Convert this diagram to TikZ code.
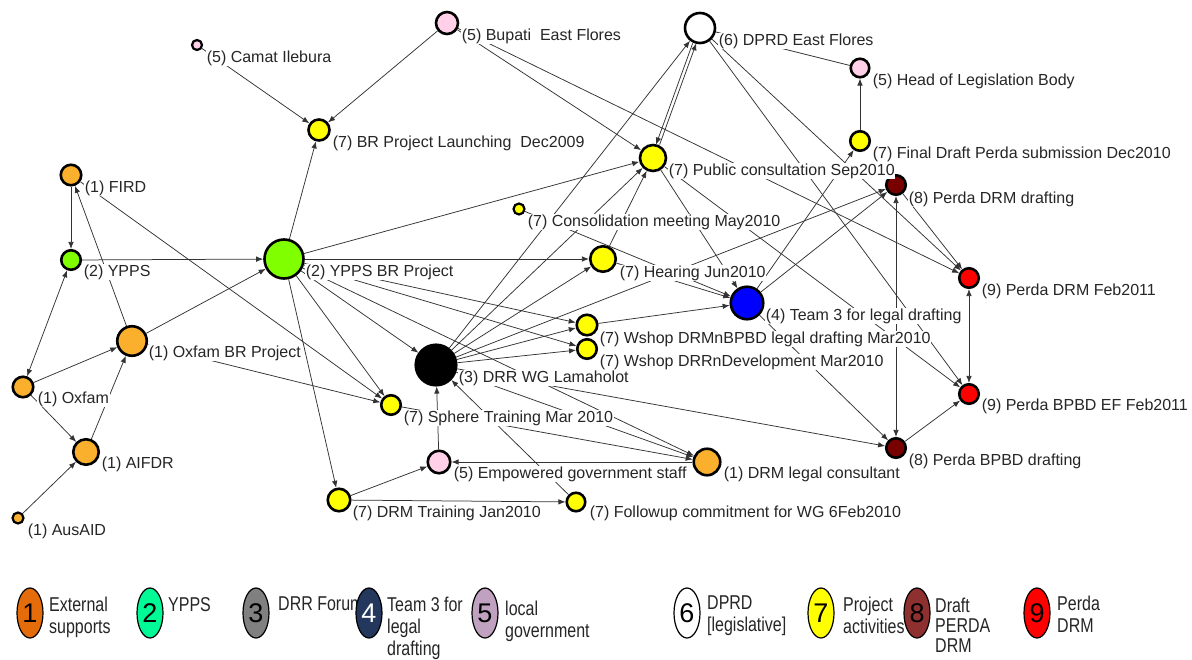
\documentclass[tikz,border=0pt]{standalone}
\usepackage{fontspec}
\setmainfont{Liberation Sans}
\newfontfamily\legfont[FakeStretch=0.8]{Liberation Sans}
\usetikzlibrary{arrows.meta,shapes.geometric}
\definecolor{cOrange}{RGB}{250,176,45}
\definecolor{cGreen}{RGB}{128,255,0}
\definecolor{cYellow}{RGB}{255,255,0}
\definecolor{cPink}{RGB}{255,208,232}
\definecolor{cBlue}{RGB}{0,0,255}
\definecolor{cDark}{RGB}{120,0,0}
\definecolor{cRed}{RGB}{255,0,0}
\definecolor{kOne}{RGB}{228,108,10}
\definecolor{kTwo}{RGB}{0,250,150}
\definecolor{kThree}{RGB}{128,128,128}
\definecolor{kFour}{RGB}{35,56,92}
\definecolor{kFive}{RGB}{192,162,192}
\definecolor{kEight}{RGB}{142,48,48}
\begin{document}
\begin{tikzpicture}[x=1pt,y=-1pt,
  gn/.style={circle,draw=black,line width=2.6pt,inner sep=0pt},
  tiny/.style={circle,draw=black,line width=2.2pt,inner sep=0pt},
  lb/.style={anchor=base west,fill=white,inner sep=0.6pt,font=\fontsize{16}{18}\selectfont,text=black!85},
  ed/.style={draw=black!80,line width=0.75pt,-{Latex[length=7pt,width=5.5pt]}},
  edd/.style={draw=black!80,line width=0.75pt,{Latex[length=7pt,width=5.5pt]}-{Latex[length=7pt,width=5.5pt]}},
  ln/.style={draw=black!80,line width=0.75pt},
  keyell/.style={ellipse,draw=black,line width=1.2pt,minimum width=26pt,minimum height=50pt,inner sep=0pt,font=\fontsize{27}{27}\selectfont},
  keytxt/.style={anchor=north west,align=left,inner sep=0pt,font=\legfont\fontsize{20}{22}\selectfont,text=black!85}]
\useasboundingbox[fill=white] (0,0) rectangle (1192,659);

% ---------- graph nodes ----------
\node[tiny,fill=cPink,minimum size=10pt] (camat) at (197,45) {};
\node[gn,fill=cPink,minimum size=22pt] (bupati) at (447,23) {};
\node[gn,fill=white,minimum size=30pt] (dprd) at (700,28) {};
\node[gn,fill=cPink,minimum size=18.5pt] (head) at (860,68) {};
\node[gn,fill=cYellow,minimum size=21pt] (brlaunch) at (319,130) {};
\node[gn,fill=cOrange,minimum size=20.5pt] (fird) at (71,175) {};
\node[gn,fill=cYellow,minimum size=26pt] (public) at (653,158) {};
\node[gn,fill=cYellow,minimum size=19.5pt] (final) at (860,141) {};
\node[gn,fill=cDark,minimum size=19.5pt] (pdrmd) at (896,185) {};
\node[tiny,fill=cYellow,minimum size=11pt] (consol) at (519,209) {};
\node[gn,fill=cGreen,minimum size=19.5pt] (ypps) at (71,260) {};
\node[gn,fill=cGreen,minimum size=39pt] (yppsbr) at (284,259) {};
\node[gn,fill=cYellow,minimum size=25.5pt] (hearing) at (603,259) {};
\node[gn,fill=cRed,minimum size=19.5pt] (pdrmf) at (969,278) {};
\node[gn,fill=cBlue,minimum size=32.5pt] (team3) at (747,303) {};
\node[gn,fill=cYellow,minimum size=20.5pt] (wshopa) at (587,325) {};
\node[gn,fill=cYellow,minimum size=19.5pt] (wshopb) at (587,349) {};
\node[gn,fill=cOrange,minimum size=29.5pt] (oxfambr) at (132,341) {};
\node[gn,fill=black,minimum size=40.5pt] (drrwg) at (436,365) {};
\node[gn,fill=cOrange,minimum size=20.5pt] (oxfam) at (23,387) {};
\node[gn,fill=cRed,minimum size=19.5pt] (pbpbdf) at (969,394) {};
\node[gn,fill=cYellow,minimum size=19.5pt] (sphere) at (391,405) {};
\node[gn,fill=cOrange,minimum size=25.5pt] (aifdr) at (86,452) {};
\node[gn,fill=cPink,minimum size=22.5pt] (empowered) at (439,462) {};
\node[gn,fill=cOrange,minimum size=26.5pt] (drmlegal) at (707,462) {};
\node[gn,fill=cDark,minimum size=19.5pt] (pbpbdd) at (896,448) {};
\node[gn,fill=cYellow,minimum size=22.5pt] (drmtrain) at (339,500) {};
\node[gn,fill=cYellow,minimum size=18.5pt] (followup) at (576,502) {};
\node[tiny,fill=cOrange,minimum size=11pt] (ausaid) at (18,518) {};

% ---------- edges ----------
\draw[ed] (camat) -- (brlaunch);
\draw[ed] (bupati) -- (brlaunch);
\draw[ed] (yppsbr) -- (brlaunch);
\draw[ed] (fird) -- (ypps);
\draw[ed] (ypps) -- (yppsbr);
\draw[ed] (oxfambr) -- (fird);
\draw[ed] (fird) -- (sphere);
\draw[ed] (oxfambr) -- (sphere);
\draw[edd] (oxfam) -- (ypps);
\draw[ed] (oxfam) -- (oxfambr);
\draw[ed] (oxfam) -- (aifdr);
\draw[ed] (aifdr) -- (oxfambr);
\draw[ed] (ausaid) -- (aifdr);
\draw[ed] (oxfambr) -- (yppsbr);
\draw[ed] (yppsbr) -- (public);
\draw[ed] (yppsbr) -- (hearing);
\draw[ed] (yppsbr) -- (drrwg);
\draw[ed] (yppsbr) -- (sphere);
\draw[ed] (yppsbr) -- (drmtrain);
\draw[ed] (yppsbr) -- (wshopa);
\draw[ed] (yppsbr) -- (wshopb);
\draw[ed] (yppsbr) -- (drmlegal);
\draw[ed] (drrwg) -- (dprd);
\draw[ed] (drrwg) -- (public);
\draw[ed] (drrwg) -- (hearing);
\draw[ed] (drrwg) -- (wshopa);
\draw[ed] (drrwg) -- (wshopb);
\draw[ed] (drrwg) -- (pdrmd);
\draw[ed] (drrwg) -- (pbpbdd);
\draw[ed] (drrwg) -- (drmlegal);
\draw[ed, transform canvas={xshift=-1.8pt}] (dprd) -- (public);
\draw[ed, transform canvas={xshift=1.8pt}] (public) -- (dprd);
\draw[ed] (dprd) -- (pdrmf);
\draw[ed] (dprd) -- (pbpbdf);
\draw[ln] (dprd) -- (head);
\draw[ed] (bupati) -- (pdrmf);
\draw[ed] (bupati) -- (public);
\draw[ed] (final) -- (head);
\draw[ed] (team3) -- (final);
\draw[ed] (team3) -- (pdrmd);
\draw[ed] (team3) -- (pbpbdd);
\draw[ed] (wshopa) -- (team3);
\draw[ed] (hearing) -- (team3);
\draw[ed] (consol) -- (team3);
\draw[ed] (hearing) -- (public);
\draw[ed] (public) -- (team3);
\draw[ed] (public) -- (pbpbdf);
\draw[edd] (pdrmd) -- (pbpbdd);
\draw[ed] (pdrmd) -- (pdrmf);
\draw[edd] (pdrmf) -- (pbpbdf);
\draw[ed] (pbpbdd) -- (pbpbdf);
\draw[ed] (drmlegal) -- (empowered);
\draw[ed] (drmtrain) -- (empowered);
\draw[ed] (drmtrain) -- (followup);
\draw[ed] (empowered) -- (drrwg);
\draw[ed] (followup) -- (drrwg);
\draw[ed] (sphere) -- (drmlegal);

% ---------- labels ----------
\node[lb] (l-camat) at (206,62) {(5) Camat Ilebura};
\node[lb] (l-bupati) at (461,40) {(5) Bupati\ \ East Flores};
\node[lb] (l-dprd) at (718,45) {(6) DPRD East Flores};
\node[lb] (l-head) at (872,85) {(5) Head of Legislation Body};
\node[lb] (l-brlaunch) at (332,147) {(7) BR Project Launching\ \ Dec2009};
\node[lb] (l-fird) at (84,192) {(1) FIRD};
\node[lb] (l-public) at (668,175) {(7) Public consultation Sep2010};
\node[lb] (l-final) at (872,158) {(7) Final Draft Perda submission Dec2010};
\node[lb] (l-pdrmd) at (908,203) {(8) Perda DRM drafting};
\node[lb] (l-consol) at (527,226) {(7) Consolidation meeting May2010};
\node[lb] (l-ypps) at (83,276) {(2) YPPS};
\node[lb] (l-yppsbr) at (305,276) {(2) YPPS BR Project};
\node[lb] (l-hearing) at (619,277) {(7) Hearing Jun2010};
\node[lb] (l-pdrmf) at (981,295) {(9) Perda DRM Feb2011};
\node[lb] (l-team3) at (765,320) {(4) Team 3 for legal drafting};
\node[lb] (l-wshopa) at (599,343) {(7) Wshop DRMnBPBD legal drafting Mar2010};
\node[lb] (l-wshopb) at (599,366) {(7) Wshop DRRnDevelopment Mar2010};
\node[lb] (l-oxfambr) at (148,357) {(1) Oxfam BR Project};
\node[lb] (l-drrwg) at (458,382) {(3) DRR WG Lamaholot};
\node[lb] (l-oxfam) at (37,403) {(1) Oxfam};
\node[lb] (l-pbpbdf) at (981,410) {(9) Perda BPBD EF Feb2011};
\node[lb] (l-sphere) at (403,422) {(7) Sphere Training Mar 2010};
\node[lb] (l-aifdr) at (101,468) {(1) AIFDR};
\node[lb] (l-empowered) at (453,478) {(5) Empowered government staff};
\node[lb] (l-drmlegal) at (723,478) {(1) DRM legal consultant};
\node[lb] (l-pbpbdd) at (908,465) {(8) Perda BPBD drafting};
\node[lb] (l-drmtrain) at (352,517) {(7) DRM Training Jan2010};
\node[lb] (l-followup) at (589,517) {(7) Followup commitment for WG 6Feb2010};
\node[lb] (l-ausaid) at (27,535) {(1) AusAID};

% ---------- legend ----------
\node[keytxt] (t1) at (49,597) {External\\supports};
\node[keytxt] (t2) at (168,597) {YPPS};
\node[keytxt] (t3) at (278,597) {DRR Forum};
\node[keytxt] (t4) at (387,597) {Team 3 for\\legal\\drafting};
\node[keytxt] (t5) at (505,601) {local\\government};
\node[keytxt] (t6) at (707,596) {DPRD\\{}[legislative]};
\node[keytxt,font=\legfont\fontsize{20}{20}\selectfont] (t8) at (935,598) {Draft\\PERDA\\DRM};
\node[keytxt] (t7) at (843,597) {Project\\activities};
\node[keytxt] (t9) at (1057,596) {Perda\\DRM};
\node[keyell,fill=kOne] (k1) at (30,613) {1};
\node[keyell,fill=kTwo] (k2) at (150,613) {2};
\node[keyell,fill=kThree] (k3) at (256,613) {3};
\node[keyell,fill=kFour,text=white] (k4) at (369,613) {4};
\node[keyell,fill=kFive] (k5) at (485,613) {5};
\node[keyell,fill=white] (k6) at (687,613) {6};
\node[keyell,fill=cYellow] (k7) at (821,613) {7};
\node[keyell,fill=kEight] (k8) at (917,613) {8};
\node[keyell,fill=cRed] (k9) at (1037,613) {9};
\end{tikzpicture}
\end{document}
